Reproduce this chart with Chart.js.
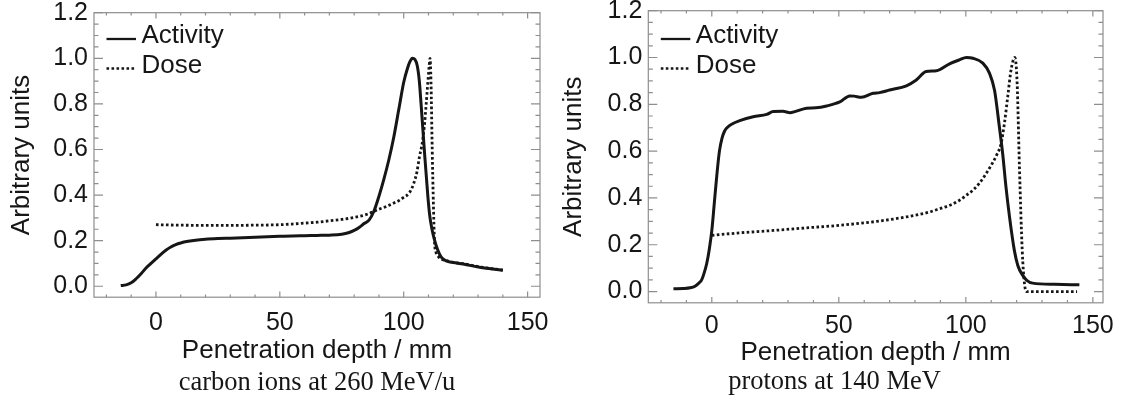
<!DOCTYPE html>
<html><head><meta charset="utf-8">
<script src="https://cdn.jsdelivr.net/npm/chart.js@4/dist/chart.umd.min.js"></script>
<style>
html,body{margin:0;padding:0;background:#fff;width:1123px;height:409px;overflow:hidden}
.panel{position:absolute;top:0}
</style></head><body>
<div class="panel" style="left:0;width:560px;height:409px"><canvas id="c1" width="560" height="409"></canvas></div>
<div class="panel" style="left:560px;width:563px;height:409px"><canvas id="c2" width="563" height="409"></canvas></div>
<script>
// ---------- data ----------
const seriesLabels = ['Activity', 'Dose'];
const xTitle = 'Penetration depth / mm';
const yTitle = 'Arbitrary units';
const captions = ['carbon ions at 260 MeV/u', 'protons at 140 MeV'];
const xTicks = [0, 50, 100, 150];
const yTicks = [0, 0.2, 0.4, 0.6, 0.8, 1.0, 1.2];

const carbonActivityDepth = [-14.2,-12,-10,-8,-6,-4,-2,0,2,4,6,8,10,13,16,20,25,30,35,40,45,50,55,60,65,70,75,78,80,82,84,86,88,90,92,94,96,98,100,101.5,102.5,103.5,104.5,105.5,106.3,107,108.3,109.7,110.5,111.4,112.5,113.7,115,116.5,118,120,124,130.6,135,140];
const carbonActivity = [0.003,0.006,0.015,0.033,0.055,0.08,0.1,0.12,0.14,0.158,0.172,0.183,0.19,0.197,0.202,0.206,0.209,0.211,0.213,0.215,0.217,0.219,0.221,0.222,0.223,0.224,0.228,0.236,0.245,0.258,0.275,0.29,0.33,0.395,0.47,0.555,0.655,0.775,0.895,0.955,0.985,1.0,0.995,0.965,0.9,0.8,0.6,0.4,0.31,0.25,0.2,0.16,0.13,0.115,0.108,0.104,0.098,0.083,0.077,0.07];
const carbonDoseDepth = [0,10,20,30,40,50,55,60,65,70,75,80,85,90,93,96,98,100,102.3,104,105.3,106.3,107.5,108.3,109,109.7,110.3,110.6,111,111.5,112,112.4,113,114,115,118,120,124,130.6,135,140];
const carbonDose = [0.27,0.268,0.267,0.267,0.268,0.27,0.273,0.277,0.281,0.287,0.293,0.302,0.315,0.338,0.35,0.365,0.375,0.39,0.41,0.45,0.5,0.565,0.63,0.7,0.79,0.89,0.97,1.0,0.9,0.6,0.35,0.2,0.15,0.13,0.12,0.11,0.105,0.099,0.085,0.078,0.071];

const protonActivityDepth = [-15.1,-11.2,-8.5,-6.6,-5.2,-4,-3,-2,-1,0,1,2,3,4,5,6,8,11,16.3,21.6,24.2,28,30.8,33,37.3,41,45.2,50.4,54.3,56,58.9,63.5,66,70,76.6,80.5,84.4,88.4,93.6,97.5,100.2,102.8,106.7,109.3,111.3,113.2,114.5,115.8,117.2,119.1,120.5,122.4,124,126.3,135,144.7];
const protonActivity = [0.012,0.013,0.016,0.023,0.035,0.05,0.08,0.12,0.18,0.26,0.38,0.5,0.6,0.655,0.685,0.7,0.716,0.73,0.747,0.757,0.769,0.77,0.764,0.77,0.783,0.785,0.793,0.81,0.836,0.835,0.83,0.847,0.85,0.861,0.879,0.904,0.94,0.943,0.973,0.99,1.0,0.997,0.976,0.933,0.86,0.704,0.59,0.447,0.319,0.176,0.11,0.069,0.048,0.036,0.031,0.029];
const protonDoseDepth = [0,10,24.2,37,50.4,65,76.6,85,89.7,94,97.5,100,102.8,105.5,108,110,112,113.9,115.2,116.5,117.8,119.3,120.2,121.1,122.2,123.1,124,134,143.8];
const protonDose = [0.24,0.25,0.261,0.272,0.283,0.3,0.319,0.338,0.354,0.37,0.39,0.41,0.433,0.465,0.504,0.54,0.58,0.633,0.719,0.833,0.947,1.0,0.89,0.533,0.176,0.033,0,0,0];

// ---------- styling / plugins ----------
const SANS = "'Liberation Sans', Arial, Helvetica, sans-serif";
const SERIF = "'Liberation Serif', 'Times New Roman', serif";
const INK = '#161616';

const frameTicks = {
  id: 'frameTicks',
  beforeDatasetsDraw(chart) {
    const {ctx, chartArea: a, scales: {x, y}} = chart;
    ctx.save();
    ctx.strokeStyle = '#8e8e8e';
    ctx.lineWidth = 1.2;
    ctx.strokeRect(a.left, a.top, a.right - a.left, a.bottom - a.top);
    ctx.beginPath();
    const xStep = 10, yStep = 0.05;
    for (let i = Math.ceil(x.min / xStep); i * xStep <= x.max; i++) {
      const px = x.getPixelForValue(i * xStep);
      const len = (i % 5 === 0) ? 5.7 : 2.8;
      ctx.moveTo(px, a.bottom); ctx.lineTo(px, a.bottom - len);
      ctx.moveTo(px, a.top); ctx.lineTo(px, a.top + len);
    }
    for (let i = Math.ceil(y.min / yStep); i * yStep <= y.max + 1e-9; i++) {
      const py = y.getPixelForValue(i * yStep);
      const len = (i % 4 === 0) ? 9 : 4.5;
      ctx.moveTo(a.left, py); ctx.lineTo(a.left + len, py);
      ctx.moveTo(a.right, py); ctx.lineTo(a.right - len, py);
    }
    ctx.stroke();
    ctx.restore();
  }
};

const insideLegend = {
  id: 'insideLegend',
  afterDatasetsDraw(chart) {
    const {ctx, chartArea: a} = chart;
    ctx.save();
    ctx.font = '26px ' + SANS;
    ctx.fillStyle = INK;
    ctx.textBaseline = 'middle';
    chart.data.datasets.forEach((ds, i) => {
      const cy = 36 + i * 29.5;
      ctx.beginPath();
      ctx.strokeStyle = ds.borderColor;
      ctx.lineWidth = 2.3;
      ctx.setLineDash(ds.borderDash || []);
      ctx.moveTo(a.left + 12.5, cy + 3);
      ctx.lineTo(a.left + 42, cy + 3);
      ctx.stroke();
      ctx.setLineDash([]);
      ctx.fillText(ds.label, a.left + 47.5, cy);
    });
    ctx.restore();
  }
};

function pts(xs, ys) { return xs.map((v, i) => ({x: v, y: ys[i]})); }

function makeChart(id, g, actX, actY, doseX, doseY, caption) {
  return new Chart(document.getElementById(id), {
    type: 'line',
    data: {
      datasets: [
        {label: seriesLabels[0], data: pts(actX, actY), borderColor: INK, borderWidth: 3,
         pointRadius: 0, cubicInterpolationMode: 'monotone', fill: false},
        {label: seriesLabels[1], data: pts(doseX, doseY), borderColor: INK, borderWidth: 2.8,
         borderDash: [2.6, 2.4], borderCapStyle: 'butt', pointRadius: 0,
         cubicInterpolationMode: 'monotone', fill: false}
      ]
    },
    options: {
      responsive: false, animation: false, devicePixelRatio: 1,
      layout: {padding: {left: g.padL, right: g.padR, top: g.padT, bottom: 0}},
      plugins: {
        legend: {display: false}, tooltip: {enabled: false},
        title: {display: true, text: caption, position: 'bottom', fullSize: g.capFull,
          color: INK, font: {family: SERIF, size: 26.5, weight: 'normal', lineHeight: 1},
          padding: {top: 0, bottom: g.capPadB}}
      },
      scales: {
        x: {type: 'linear', min: -25, max: g.xMax,
          grid: {display: false, drawTicks: false, tickLength: 0}, border: {display: false},
          afterBuildTicks: s => { s.ticks = xTicks.map(v => ({value: v})); },
          afterFit: s => { s.height = g.xH; s.paddingLeft = 0; s.paddingRight = 0; },
          ticks: {color: INK, font: {family: SANS, size: 25, lineHeight: 1}, padding: g.xTickPad, maxRotation: 0},
          title: {display: true, text: xTitle, color: INK,
            font: {family: SANS, size: 26, lineHeight: 1}, padding: {top: 0, bottom: g.xTitlePad}}
        },
        y: {type: 'linear', min: -0.048, max: 1.2,
          grid: {display: false, drawTicks: false, tickLength: 0}, border: {display: false},
          afterBuildTicks: s => { s.ticks = yTicks.map(v => ({value: v})); },
          afterFit: s => { s.width = g.yW; s.paddingTop = 0; s.paddingBottom = 0; },
          ticks: {color: INK, font: {family: SANS, size: 25, lineHeight: 1}, padding: 6,
            callback: v => Number(v).toFixed(1)},
          title: {display: true, text: yTitle, color: INK,
            font: {family: SANS, size: 26, lineHeight: 1}, padding: {top: g.yTitlePad, bottom: 0}}
        }
      }
    },
    plugins: [frameTicks, insideLegend]
  });
}

makeChart('c1', {padL: 0, padR: 20, padT: 12.7, yW: 94, xH: 72.3, xMax: 155,
  capFull: false, capPadB: 13, xTickPad: 13.3, xTitlePad: 6, yTitlePad: 9},
  carbonActivityDepth, carbonActivity, carbonDoseDepth, carbonDose, captions[0]);

makeChart('c2', {padL: 6, padR: 20, padT: 10.7, yW: 82.3, xH: 65.7, xMax: 154,
  capFull: true, capPadB: 14, xTickPad: 10.7, xTitlePad: 3, yTitlePad: -5},
  protonActivityDepth, protonActivity, protonDoseDepth, protonDose, captions[1]);
</script>
</body></html>
